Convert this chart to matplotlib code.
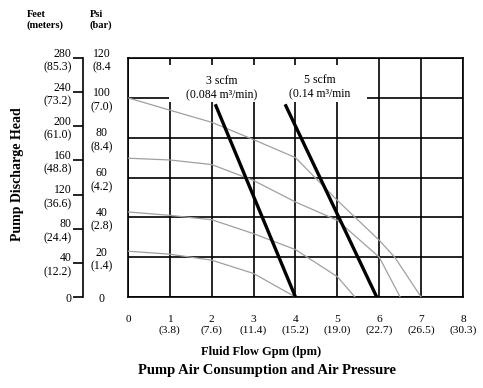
import numpy as np
import matplotlib
matplotlib.use('Agg')
import matplotlib.pyplot as plt
from matplotlib.patches import Rectangle

# flow in gpm, discharge pressure in psi
flow_100 = [0, 1, 2, 3, 4, 5, 6, 6.37, 7]
psi_100 = [100, 93.8, 87.7, 79, 70, 48.5, 28.5, 20, 0]
flow_70 = [0, 1, 2, 3, 4, 5, 6, 6.5]
psi_70 = [69.7, 68.8, 66.5, 58.5, 47.7, 38.5, 20, 0]
flow_42 = [0, 1, 2, 3, 4, 5, 5.42]
psi_42 = [42.7, 41, 38.8, 31.8, 23.8, 10.2, 0]
flow_23 = [0, 1, 2, 3, 4]
psi_23 = [23, 21.5, 18.5, 11.8, 0]

# air consumption lines
scfm3_flow = [2.1, 4.0]
scfm3_psi = [96, 0]
scfm5_flow = [3.77, 5.94]
scfm5_psi = [96, 0]

gpm_ticks = [0, 1, 2, 3, 4, 5, 6, 7, 8]
gpm_labels = ['0', '1\n(3.8)', '2\n(7.6)', '3\n(11.4)', '4\n(15.2)',
              '5\n(19.0)', '6\n(22.7)', '7\n(26.5)', '8\n(30.3)']
psi_ticks = [0, 20, 40, 60, 80, 100, 120]
psi_labels = ['0', '20\n(1.4)', '40\n(2.8)', '60\n(4.2)', '80\n(8.4)',
              '100\n(7.0)', '120\n(8.4']
feet_ticks = [0, 40, 80, 120, 160, 200, 240, 280]
feet_labels = ['0', '40\n(12.2)', '80\n(24.4)', '120\n(36.6)', '160\n(48.8)',
               '200\n(61.0)', '240\n(73.2)', '280\n(85.3)']

plt.rcParams['font.family'] = ['Liberation Serif', 'DejaVu Serif']

fig = plt.figure(figsize=(4.83, 3.88), dpi=100)
ax = fig.add_axes([0.265, 0.2345, 0.6935, 0.616])

ax.set_xlim(0, 8)
ax.set_ylim(0, 120)
ax.set_xticks(gpm_ticks)
ax.set_xticklabels(gpm_labels)
ax.set_yticks(psi_ticks)
ax.set_yticklabels(psi_labels, ha='center')
ax.tick_params(axis='x', length=0, pad=13, labelsize=8.2)
ax.tick_params(axis='y', length=0, pad=19, labelsize=8.5)
ax.grid(True, color='black', linewidth=1.2, zorder=1)
ax.set_axisbelow(True)
for s in ax.spines.values():
    s.set_linewidth(1.2)

# white patch behind the scfm labels
ax.add_patch(Rectangle((0.97, 97.8), 4.73, 18.7, facecolor='white',
                       edgecolor='none', zorder=2))

for fx, py in [(flow_100, psi_100), (flow_70, psi_70), (flow_42, psi_42), (flow_23, psi_23)]:
    ax.plot(fx, py, color='#a0a0a0', linewidth=0.9, zorder=3)

ax.plot(scfm3_flow, scfm3_psi, color='black', linewidth=2.4, zorder=4)
ax.plot(scfm5_flow, scfm5_psi, color='black', linewidth=2.4, zorder=4)

ax.text(2.24, 104.8, '3 scfm\n(0.084 m³/min)', ha='center', va='center',
        fontsize=8.5, zorder=5)
ax.text(4.59, 105.3, '5 scfm\n(0.14 m³/min', ha='center', va='center',
        fontsize=8.5, zorder=5)

# feet scale on a separate spine further left
ax2 = ax.twinx()
ax2.set_ylim(0, 280)
ax2.set_yticks(feet_ticks)
ax2.yaxis.set_ticks_position('left')
ax2.set_yticklabels(feet_labels, multialignment='center')
ax2.spines['left'].set_visible(True)
ax2.spines['left'].set_position(('outward', 32.5))
ax2.spines['left'].set_linewidth(1.2)
for side in ['right', 'top', 'bottom']:
    ax2.spines[side].set_visible(False)
ax2.tick_params(axis='y', length=7, width=1.2, pad=1, labelsize=8.5)

fig.text(0.055, 0.975, 'Feet\n(meters)', ha='left', va='top', fontsize=7.5,
         fontweight='bold')
fig.text(0.186, 0.975, 'Psi\n(bar)', ha='left', va='top', fontsize=7.5,
         fontweight='bold')
fig.text(0.037, 0.55, 'Pump Discharge Head', rotation=90, ha='center',
         va='center', fontsize=10, fontweight='bold')
fig.text(0.54, 0.093, 'Fluid Flow Gpm (lpm)', ha='center', va='center',
         fontsize=9, fontweight='bold')
fig.text(0.552, 0.046, 'Pump Air Consumption and Air Pressure', ha='center',
         va='center', fontsize=10.5, fontweight='bold')

plt.savefig('out.png', dpi=100)
